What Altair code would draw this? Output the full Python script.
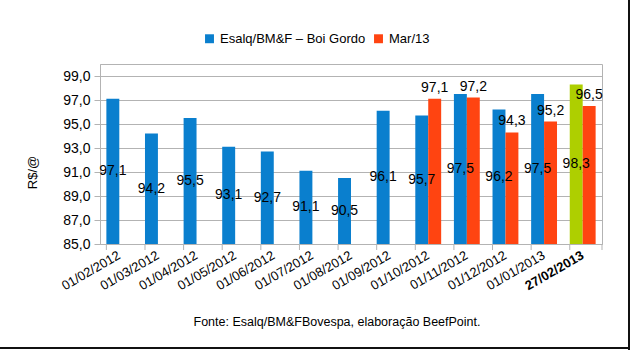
import altair as alt
import pandas as pd

dates = ["01/02/2012", "01/03/2012", "01/04/2012", "01/05/2012", "01/06/2012",
         "01/07/2012", "01/08/2012", "01/09/2012", "01/10/2012", "01/11/2012",
         "01/12/2012", "01/01/2013", "27/02/2013"]
esalq = [97.1, 94.2, 95.5, 93.1, 92.7, 91.1, 90.5, 96.1, 95.7, 97.5, 96.2, 97.5, 98.3]
mar13 = [None, None, None, None, None, None, None, None, 97.1, 97.2, 94.3, 95.2, 96.5]
series_names = ["Esalq/BM&F – Boi Gordo", "Mar/13"]
footer = "Fonte: Esalq/BM&FBovespa, elaboração BeefPoint."
y_ticks = [85, 87, 89, 91, 93, 95, 97, 99]

BASE = 85
rows = []
for i, d in enumerate(dates):
    rows.append({"date": d, "serie": "A", "value": esalq[i],
                 "cor": "Destaque" if i == len(dates) - 1 else series_names[0],
                 "pos": "mid"})
    if mar13[i] is not None:
        rows.append({"date": d, "serie": "B", "value": mar13[i],
                     "cor": series_names[1], "pos": "top"})
df = pd.DataFrame(rows)

FONT = "Liberation Sans"
GRAY = "#b3b3b3"

xscale = alt.Scale(domain=dates, paddingInner=0.33, paddingOuter=0.165)
yscale = alt.Scale(domain=[85, 100], nice=False, zero=False)
offscale = alt.Scale(domain=["A", "B"], paddingInner=0, paddingOuter=0)
colscale = alt.Scale(domain=series_names + ["Destaque"],
                     range=["#0a7fce", "#ff4411", "#aecf00"])

xaxis = alt.Axis(title=None, labelAngle=-30, labelAlign="right",
                 labelBaseline="middle", labelFont=FONT, labelFontSize=13,
                 labelColor="#000", ticks=False, domain=False,
                 labelPadding=10, labelOverlap=False,
                 labelFontWeight=alt.expr("datum.value == '27/02/2013' ? 'bold' : 'normal'"))
yaxis = alt.Axis(title="R$/@", values=y_ticks, tickCount=8, labelOverlap=False,
                 labelExpr="replace(format(datum.value, '.1f'), '.', ',')",
                 labelFont=FONT, labelFontSize=14, labelColor="#000",
                 tickColor=GRAY, tickSize=6, domainColor=GRAY,
                 gridColor=GRAY, labelPadding=4,
                 titleFont=FONT, titleFontSize=13, titleFontWeight="normal",
                 titleColor="#000", titleX=-68, titleY=108,
                 titleAngle=270, titleAlign="center", titleBaseline="middle")

base = alt.Chart(df)

bars = base.mark_bar().encode(
    x=alt.X("date:N", scale=xscale, sort=dates, axis=xaxis),
    xOffset=alt.XOffset("serie:N", scale=offscale),
    y=alt.Y("value:Q", scale=yscale, axis=yaxis),
    y2=alt.datum(BASE),
    color=alt.Color("cor:N", scale=colscale,
                    legend=alt.Legend(values=series_names, title=None, orient="none",
                                      direction="horizontal", legendX=103, legendY=-32,
                                      symbolType="square", symbolSize=80,
                                      symbolStrokeWidth=0, labelFont=FONT,
                                      labelFontSize=13, labelColor="#000",
                                      columnPadding=6, labelOffset=4)),
)

mid_labels = base.transform_filter("datum.pos == 'mid'").transform_calculate(
    mid="(datum.value + 85) / 2",
    lbl="replace(format(datum.value, '.1f'), '.', ',')",
).mark_text(font=FONT, fontSize=14, baseline="middle", color="#000").encode(
    x=alt.X("date:N", scale=xscale, sort=dates, axis=xaxis),
    xOffset=alt.XOffset("serie:N", scale=offscale),
    y=alt.Y("mid:Q", scale=yscale, axis=yaxis),
    text="lbl:N",
)

top_labels = base.transform_filter("datum.pos == 'top'").transform_calculate(
    lbl="replace(format(datum.value, '.1f'), '.', ',')",
).mark_text(font=FONT, fontSize=14, baseline="bottom", dy=-4, color="#000").encode(
    x=alt.X("date:N", scale=xscale, sort=dates, axis=xaxis),
    xOffset=alt.XOffset("serie:N", scale=offscale),
    y=alt.Y("value:Q", scale=yscale, axis=yaxis),
    text="lbl:N",
)

tick_df = pd.DataFrame({"date": dates})
xticks = alt.Chart(tick_df).mark_rule(color=GRAY).encode(
    x=alt.X("date:N", scale=xscale, sort=dates, bandPosition=0, axis=xaxis),
    y=alt.value(180), y2=alt.value(186),
)
last_tick = alt.Chart(tick_df.head(1)).mark_rule(color=GRAY).encode(
    x=alt.value(502), y=alt.value(180), y2=alt.value(186),
)

foot = alt.Chart(pd.DataFrame({"t": [footer]})).mark_text(
    font=FONT, fontSize=12.5, color="#000", baseline="middle", align="center"
).encode(x=alt.value(237), y=alt.value(258), text="t:N")

frame_r = alt.Chart(tick_df.head(1)).mark_rule(color="#111", strokeWidth=2).encode(
    x=alt.value(529), y=alt.value(-64), y2=alt.value(286))
frame_b = alt.Chart(tick_df.head(1)).mark_rule(color="#111", strokeWidth=2).encode(
    x=alt.value(-100), x2=alt.value(530), y=alt.value(284))

chart = alt.layer(bars, mid_labels, top_labels, xticks, last_tick, foot, frame_r, frame_b).properties(
    width=502, height=180,
    autosize=alt.AutoSizeParams(type="none"),
    padding={"left": 100, "top": 64, "right": 29, "bottom": 107},
    background="white",
).configure_view(stroke=GRAY, strokeWidth=1).configure_axis(gridWidth=1)

chart.save("out.html", embed_options={"renderer": "svg", "actions": False})
